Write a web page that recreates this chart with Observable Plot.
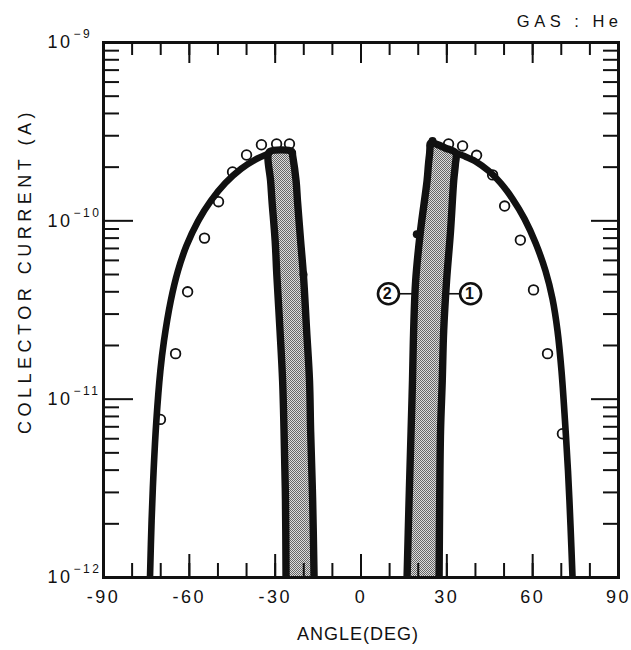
<!DOCTYPE html>
<html>
<head>
<meta charset="utf-8">
<script src="https://cdn.jsdelivr.net/npm/d3@7"></script>
<script src="https://cdn.jsdelivr.net/npm/@observablehq/plot@0.6"></script>
<style>
  html, body { margin: 0; padding: 0; background: #fff; }
  #chart svg { display: block; }
  #chart svg text { letter-spacing: 2.5px; }
</style>
</head>
<body>
<div id="chart"></div>
<script>
// Collector current against collector angle, helium gas.

// Measured points, open circles: [angle (deg), current (A)]
const leftPoints = [
  [-70.1, 7.7e-12], [-64.8, 1.8e-11], [-60.6, 4.0e-11], [-54.7, 8.0e-11],
  [-49.8, 1.28e-10], [-44.9, 1.88e-10], [-40.0, 2.34e-10], [-34.8, 2.67e-10],
  [-29.5, 2.70e-10], [-25.0, 2.70e-10]
];
const rightPoints = [
  [30.6, 2.70e-10], [35.5, 2.63e-10], [40.4, 2.33e-10], [46.0, 1.81e-10],
  [50.2, 1.21e-10], [55.7, 7.8e-11], [60.3, 4.1e-11], [65.2, 1.8e-11],
  [70.4, 6.4e-12]
];
// Measured points, solid
const solidPoints = [[-20.1, 5.0e-11], [19.5, 8.4e-11], [25.0, 2.8e-10]];

// Outer envelope curves: [angle (deg), current (A)]
const leftEnvelope = [
  [-73.75, 1e-12], [-73.19, 2.08e-12], [-72.49, 3.96e-12], [-71.53, 7.55e-12],
  [-70.13, 1.44e-11], [-68.87, 2.12e-11], [-66.50, 3.56e-11], [-63.98, 5.24e-11],
  [-61.01, 7.24e-11], [-56.90, 1.0e-10], [-52.50, 1.295e-10], [-47.33, 1.634e-10],
  [-41.94, 1.957e-10], [-37.08, 2.198e-10], [-32.47, 2.376e-10]
];
const rightEnvelope = [
  [33.03, 2.406e-10], [35.83, 2.315e-10], [40.02, 2.157e-10], [44.56, 1.907e-10],
  [48.76, 1.634e-10], [52.95, 1.329e-10], [57.15, 1.026e-10], [60.99, 7.53e-11],
  [64.49, 5.24e-11], [66.93, 3.65e-11], [68.68, 2.42e-11], [70.08, 1.44e-11],
  [71.30, 7.55e-12], [72.35, 3.96e-12], [73.23, 1.95e-12], [73.93, 1e-12]
];

// Shaded bands between curves (2) and (1): [current (A), curve 2 angle, curve 1 angle]
const leftBand = [
  [1e-12, -26.2, -16.4], [2.7e-12, -26.4, -16.9], [6.6e-12, -26.9, -17.6],
  [1.27e-11, -27.4, -18.0], [2.42e-11, -28.3, -19.0], [4.9e-11, -29.4, -20.1],
  [7.7e-11, -30.0, -21.1], [1.29e-10, -31.1, -22.2], [1.68e-10, -31.6, -22.7],
  [2.32e-10, -32.5, -23.9], [2.45e-10, -31.8, -24.2]
];
const rightBand = [
  [1e-12, 16.1, 27.3], [2.7e-12, 16.8, 27.5], [6.6e-12, 17.5, 27.8],
  [1.27e-11, 18.0, 28.4], [2.42e-11, 18.4, 28.9], [4.6e-11, 19.1, 29.9],
  [8.8e-11, 20.8, 31.3], [1.68e-10, 23.1, 32.4], [2.09e-10, 23.6, 33.0],
  [2.4e-10, 24.0, 33.1], [2.56e-10, 24.1, 29.5], [2.72e-10, 24.2, 25.5]
];

// Curve labels with leader lines to the band edges
const curveLabels = [
  {name: "2", angle: 9.6, current: 3.9e-11, edge: 19.0},
  {name: "1", angle: 38.3, current: 3.9e-11, edge: 29.6}
];

// Axis ticks
const angleTicks = d3.range(-90, 91, 10);
const angleLabels = d3.range(-90, 91, 30);
const decades = [1e-12, 1e-11, 1e-10, 1e-9];
const minorCurrents = decades.slice(0, 3).flatMap(d => d3.range(2, 10).map(m => m * d));

const title = "GAS : He";
const xLabel = "ANGLE(DEG)";
const yLabel = "COLLECTOR CURRENT (A)";

// Closed outline of a band: curve 2 upward, across the top, curve 1 downward
const outline = band => [
  ...band.map(([c, a]) => [a, c]),
  ...band.slice().reverse().map(([c, , b]) => [b, c])
];

const ink = "#111";
const lineW = 6.6;
const bandW = 7.4;
const tickStyle = {tickFormat: () => "", label: null, strokeWidth: 2, stroke: ink};

const svg = Plot.plot({
  width: 631,
  height: 650,
  marginLeft: 103,
  marginRight: 13,
  marginTop: 42,
  marginBottom: 73,
  style: {fontFamily: "'Liberation Sans', Arial, sans-serif", background: "#fff", color: ink},
  x: {domain: [-90, 90], axis: null},
  y: {type: "log", domain: [1e-12, 1e-9], axis: null},
  marks: [
    // shaded bands
    Plot.areaX(leftBand, {y: d => d[0], x1: d => d[1], x2: d => d[2], fill: "url(#halftone)", curve: "catmull-rom", clip: true}),
    Plot.areaX(rightBand, {y: d => d[0], x1: d => d[1], x2: d => d[2], fill: "url(#halftone)", curve: "catmull-rom", clip: true}),

    // open circles
    Plot.dot([...leftPoints, ...rightPoints], {x: d => d[0], y: d => d[1], r: 4.8, fill: "#fff", stroke: ink, strokeWidth: 1.8}),

    // band outlines
    Plot.line(outline(leftBand), {x: d => d[0], y: d => d[1], stroke: ink, strokeWidth: bandW, curve: "catmull-rom", strokeLinejoin: "round", strokeLinecap: "round", clip: true}),
    Plot.line(outline(rightBand), {x: d => d[0], y: d => d[1], stroke: ink, strokeWidth: bandW, curve: "catmull-rom", strokeLinejoin: "round", strokeLinecap: "round", clip: true}),

    // envelopes
    Plot.line(leftEnvelope, {x: d => d[0], y: d => d[1], stroke: ink, strokeWidth: lineW, curve: "catmull-rom", strokeLinecap: "round", clip: true}),
    Plot.line(rightEnvelope, {x: d => d[0], y: d => d[1], stroke: ink, strokeWidth: lineW, curve: "catmull-rom", strokeLinecap: "round", clip: true}),

    // solid points
    Plot.dot(solidPoints, {x: d => d[0], y: d => d[1], r: 4, fill: ink}),

    // curve labels
    Plot.ruleY(curveLabels, {y: "current", x1: "angle", x2: "edge", stroke: ink, strokeWidth: 1.6}),
    Plot.dot(curveLabels, {x: "angle", y: "current", r: 10.5, fill: "#fff", stroke: ink, strokeWidth: 2.6}),
    Plot.text(curveLabels, {x: "angle", y: "current", text: "name", fontSize: 16, fontWeight: "bold", fill: ink}),

    // frame and inward ticks
    Plot.frame({stroke: ink, strokeWidth: 3}),
    Plot.axisX(angleTicks, {anchor: "bottom", tickSize: -14, ...tickStyle}),
    Plot.axisX(angleLabels, {anchor: "bottom", tickSize: -23, ...tickStyle}),
    Plot.axisX(angleTicks, {anchor: "top", tickSize: -12, ...tickStyle}),
    Plot.axisX(angleLabels, {anchor: "top", tickSize: -20, ...tickStyle}),
    Plot.axisY(minorCurrents, {anchor: "left", tickSize: -16, ...tickStyle}),
    Plot.axisY(decades, {anchor: "left", tickSize: -30, ...tickStyle}),
    Plot.axisY(minorCurrents, {anchor: "right", tickSize: -16, ...tickStyle}),
    Plot.axisY(decades, {anchor: "right", tickSize: -28, ...tickStyle}),

    // tick labels
    Plot.text(angleLabels, {x: d => d, frameAnchor: "bottom", dy: 20, textAnchor: "middle", lineAnchor: "middle", text: d => d < 0 ? "-" + (-d) : String(d), fontSize: 18, fill: ink}),
    Plot.text(decades, {y: d => d, frameAnchor: "left", dx: -31, textAnchor: "end", lineAnchor: "middle", text: () => "10", fontSize: 18, fill: ink}),
    Plot.text(decades, {y: d => d, frameAnchor: "left", dx: -30, dy: -8, textAnchor: "start", lineAnchor: "middle", text: d => "\u2212" + Math.round(-Math.log10(d)), fontSize: 12, fill: ink}),

    // titles
    Plot.text([title], {frameAnchor: "top-right", dy: -21, dx: 4, textAnchor: "end", lineAnchor: "middle", fontSize: 16.5, fill: ink}),
    Plot.text([xLabel], {frameAnchor: "bottom", dy: 57, dx: -3, textAnchor: "middle", lineAnchor: "middle", fontSize: 18, fill: ink}),
    Plot.text([yLabel], {frameAnchor: "left", dx: -78, dy: -39, rotate: -90, textAnchor: "middle", lineAnchor: "middle", fontSize: 18, fill: ink})
  ]
});

// halftone screen for the shaded bands
const defs = d3.select(svg).insert("defs", ":first-child");
const pat = defs.append("pattern")
  .attr("id", "halftone")
  .attr("width", 2).attr("height", 2)
  .attr("patternUnits", "userSpaceOnUse");
pat.append("rect").attr("width", 2).attr("height", 2).attr("fill", "#dcdcdc");
pat.append("rect").attr("width", 1).attr("height", 1).attr("fill", "#666");
pat.append("rect").attr("x", 1).attr("y", 1).attr("width", 1).attr("height", 1).attr("fill", "#666");

// wider letter spacing on the axis titles
d3.select(svg).selectAll("text").each(function() {
  const t = this.textContent;
  if (t === yLabel) this.style.letterSpacing = "4.5px";
  else if (t === title) this.style.letterSpacing = "4.5px";
  else if (t === xLabel) this.style.letterSpacing = "1px";
});

document.getElementById("chart").appendChild(svg);
</script>
</body>
</html>
